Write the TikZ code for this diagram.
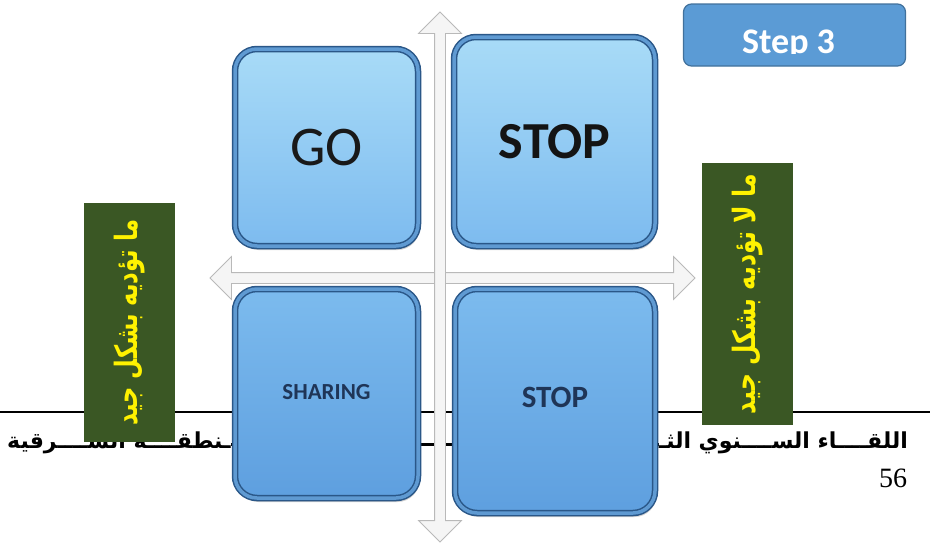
\documentclass[tikz,border=0pt]{standalone}
\usepackage{fontspec}
\setmainfont{Carlito}
\newfontfamily\arabicfont[Script=Arabic]{DejaVu Sans}
\newfontfamily\pagefont{Liberation Serif}
\TeXXeTstate=1
\usetikzlibrary{shapes.arrows,shadows}
\definecolor{boxedge}{HTML}{2A5788}
\definecolor{boxbevel}{HTML}{5F9AD2}
\definecolor{uppertop}{HTML}{A8DBF7}
\definecolor{upperbot}{HTML}{7DBBEF}
\definecolor{lowertop}{HTML}{7CBBEE}
\definecolor{lowerbot}{HTML}{5E9FDF}
\definecolor{leaf}{HTML}{3A5724}
\definecolor{stepblue}{HTML}{5B9BD5}
\definecolor{stepedge}{HTML}{41719C}
\definecolor{navy}{HTML}{1F3557}

\begin{document}
\begin{tikzpicture}[x=1pt, y=-1pt,
  quad/.style={rectangle, rounded corners=22pt, draw=boxedge, line width=1.5pt,
    double=boxbevel, double distance=3.5pt,
    drop shadow={shadow xshift=1.5pt, shadow yshift=-4pt, opacity=0.35}},
  upper/.style={quad, top color=uppertop, bottom color=upperbot},
  lower/.style={quad, top color=lowertop, bottom color=lowerbot},
  greenbox/.style={rectangle, fill=leaf, text=yellow, rotate=90, minimum height=91pt,
    font=\arabicfont\bfseries\fontsize{22}{24}\selectfont},
  axis/.style={double arrow, draw=gray!55, fill=gray!8, line width=0.8pt, inner sep=5pt,
    minimum width=42pt, double arrow head extend=16pt},
  footer/.style={inner sep=0pt, font=\arabicfont\bfseries\fontsize{22}{24}\selectfont}]

  % page and footer
  \fill[white] (0,0) rectangle (938,542);
  \useasboundingbox (0,0) rectangle (938,542);
  \coordinate (ruleL) at (0,412);
  \coordinate (ruleR) at (930,412);
  \draw[line width=1.5pt] (ruleL) -- (ruleR);
  \node[footer, anchor=base east] (footR) at (908,448) {\beginR اللقــــاء الســــنوي الثـ\endR};
  \node[footer, anchor=base west] (footL) at (7,448) {\beginR ـنطقــــة الشــــرقية\endR};
  \draw[line width=3pt] ([yshift=4pt]footL.base east) -- ([yshift=4pt]footR.base west);
  \node[font=\pagefont\fontsize{28}{30}\selectfont] (page) at (893,478) {56};

  % green side labels
  \node[greenbox, minimum width=239pt] (good) at (129.5,322.5)
    {\scalebox{1.03}[1.4]{\beginR ما تؤديه بشكل جيد\endR}};
  \node[greenbox, minimum width=262pt] (notgood) at (747.5,294)
    {\scalebox{1.07}[1.4]{\beginR ما لا تؤديه بشكل جيد\endR}};

  % quadrants
  \node[upper, minimum width=183pt, minimum height=197pt, text=black!90,
    font=\fontsize{56}{60}\selectfont] (go) at (326.5,147.5) {GO};
  \node[upper, minimum width=201pt, minimum height=209pt, text=black!92,
    font=\bfseries\fontsize{52}{56}\selectfont] (stopA) at (554.5,141.5) {STOP};
  \node[lower, minimum width=183pt, minimum height=209pt, text=navy,
    font=\bfseries\fontsize{23}{25}\selectfont] (sharing) at (326.5,393.5) {\raisebox{4pt}{SHARING}};
  \node[lower, minimum width=200pt, minimum height=224pt, text=navy,
    font=\bfseries\fontsize{31}{33}\selectfont] (stopB) at (555,401) {\raisebox{8pt}{STOP}};

  % axes
  \node[axis, minimum height=485pt] (hAxis) at (452.5,278) {};
  \node[axis, minimum height=530pt, rotate=90] (vAxis) at (440,277) {};

  % step tag
  \node[rectangle, rounded corners=8pt, fill=stepblue, draw=stepedge, line width=1.2pt,
    minimum width=222pt, minimum height=62pt] (step) at (794.5,35) {};
  \begin{scope}
    \clip (684,4) rectangle (905,53.5);
    \node[anchor=base, text=white, inner sep=0pt, font=\bfseries\fontsize{36}{38}\selectfont]
      (steptext) at (788.5,53) {Step 3};
  \end{scope}
\end{tikzpicture}
\end{document}
